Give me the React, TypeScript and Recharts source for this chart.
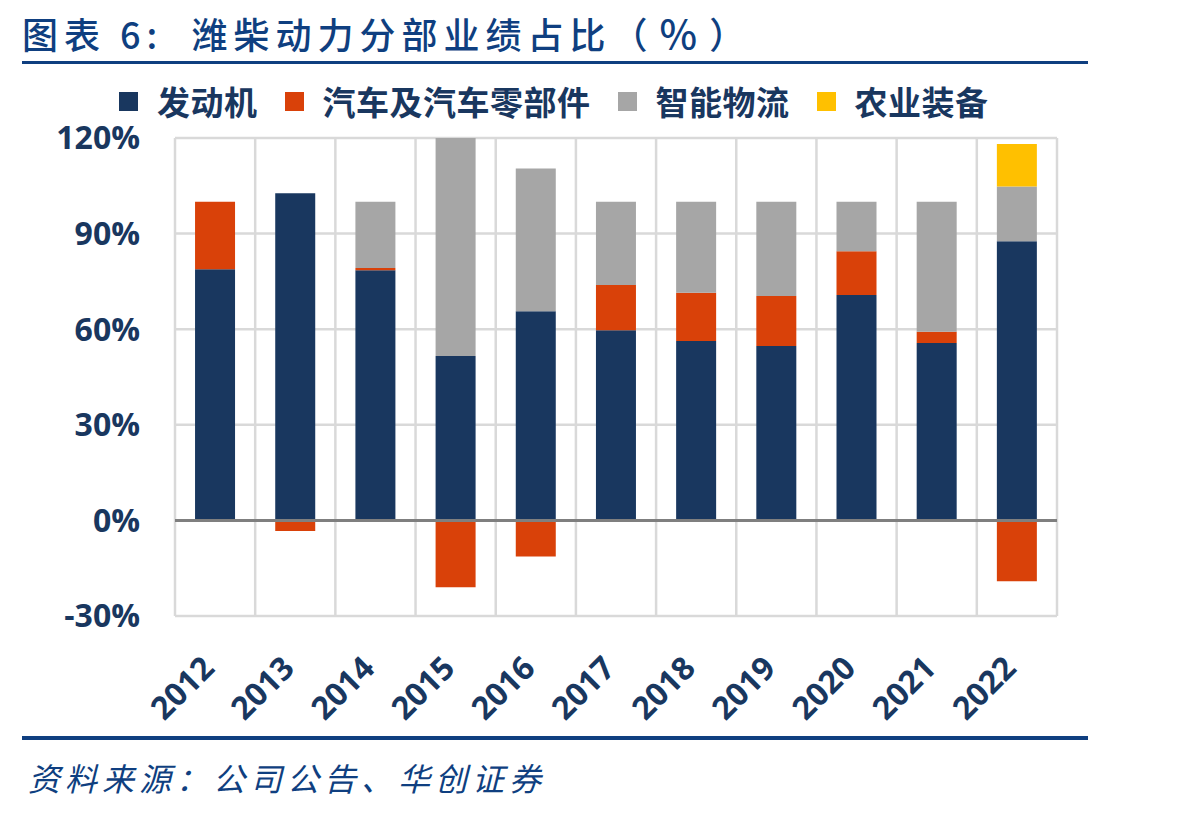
// Weichai segment profit share, stacked bars (Recharts) with negatives split by sign.

import { Bar, BarChart, CartesianGrid, ReferenceLine, XAxis, YAxis } from 'recharts'

const years = ['2012', '2013', '2014', '2015', '2016', '2017', '2018', '2019', '2020', '2021', '2022']
const engine = [78.8, 102.7, 78.5, 51.6, 65.6, 59.7, 56.3, 54.7, 70.7, 55.7, 87.6]
const autoParts = [21.2, -3.3, 0.7, -21, -11.3, 14.2, 15.1, 15.7, 13.8, 3.5, -19.1]
const logistics = [null, null, 20.8, 70, 44.8, 26.1, 28.6, 29.6, 15.5, 40.8, 17.2]
const agri = [null, null, null, null, null, null, null, null, null, null, 13.3]
const yTicks = [-30, 0, 30, 60, 90, 120]

const series = [
  { key: 'engine', name: '发动机', color: '#19375f' },
  { key: 'autoParts', name: '汽车及汽车零部件', color: '#d94109' },
  { key: 'logistics', name: '智能物流', color: '#a6a6a6' },
  { key: 'agri', name: '农业装备', color: '#ffc000' },
]

const data = years.map((year, i) => ({
  year,
  engine: engine[i],
  autoParts: autoParts[i],
  logistics: logistics[i],
  agri: agri[i],
}))

const NAVY = '#19375f'
const TITLE_BLUE = '#0f3f80'
const NUM_FONT = '"Open Sans", "Noto Sans CJK SC", sans-serif'
const CJK_FONT = '"Noto Sans CJK SC", sans-serif'

// vertical grid lines sit on the category boundaries, not the centres
const boundaryLines = ({ offset }: any) =>
  Array.from({ length: years.length + 1 }, (_, i) => offset.left + (offset.width * i) / years.length)

const YearTick = ({ x, y, payload }: any) => {
  const tx = x + 1
  const ty = y + 54
  return (
    <text
      x={tx}
      y={ty}
      transform={`rotate(-45 ${tx} ${ty})`}
      textAnchor="end"
      fill={NAVY}
      fontSize={32}
      fontWeight={700}
      fontFamily={NUM_FONT}
    >
      {payload.value}
    </text>
  )
}

export default function App() {
  return (
    <div
      style={{
        position: 'absolute',
        left: 0,
        top: 0,
        width: 1198,
        height: 814,
        background: '#fff',
        overflow: 'hidden',
      }}
    >
      {/* title */}
      <div
        style={{
          position: 'absolute',
          left: 22,
          top: 3,
          fontFamily: CJK_FONT,
          fontWeight: 500,
          fontSize: 36,
          letterSpacing: 6,
          color: TITLE_BLUE,
          whiteSpace: 'nowrap',
        }}
      >
        图表 6:&nbsp;&nbsp;潍柴动力分部业绩占比（<span style={{ fontSize: 40, margin: '0 6px' }}>%</span>）
      </div>
      <div style={{ position: 'absolute', left: 22, top: 61, width: 1066, height: 3, background: TITLE_BLUE }} />

      {/* legend */}
      <div
        style={{
          position: 'absolute',
          left: 119,
          top: 77,
          display: 'flex',
          alignItems: 'center',
          fontFamily: CJK_FONT,
          fontWeight: 700,
          fontSize: 33,
          letterSpacing: 0.5,
          color: NAVY,
          whiteSpace: 'nowrap',
        }}
      >
        {series.map((s) => (
          <div key={s.key} style={{ display: 'flex', alignItems: 'center', marginRight: 27 }}>
            <span style={{ width: 19, height: 19, background: s.color, marginRight: 19, display: 'inline-block' }} />
            <span>{s.name}</span>
          </div>
        ))}
      </div>

      <div style={{ position: 'absolute', left: 0, top: 0 }}>
        <BarChart
          width={1198}
          height={814}
          data={data}
          stackOffset="sign"
          barCategoryGap="25%"
          margin={{ top: 138, right: 141, left: 0, bottom: 98 }}
        >
          <CartesianGrid
            stroke="#d9d9d9"
            strokeWidth={2.5}
            verticalCoordinatesGenerator={boundaryLines}
          />
          <XAxis
            dataKey="year"
            height={100}
            axisLine={false}
            tickLine={false}
            tickSize={0}
            tickMargin={0}
            interval={0}
            tick={<YearTick />}
          />
          <YAxis
            domain={[-30, 120]}
            ticks={yTicks}
            allowDataOverflow
            width={175}
            axisLine={false}
            tickLine={false}
            tickSize={0}
            tickMargin={35}
            tickFormatter={(v: number) => `${v}%`}
            tick={{ fill: NAVY, fontSize: 32, fontWeight: 700, fontFamily: NUM_FONT }}
          />
          {series.map((s) => (
            <Bar
              key={s.key}
              dataKey={s.key}
              name={s.name}
              stackId="a"
              fill={s.color}
              isAnimationActive={false}
            />
          ))}
          <ReferenceLine y={0} stroke="#7f7f7f" strokeWidth={3} />
        </BarChart>
      </div>

      {/* footer */}
      <div style={{ position: 'absolute', left: 22, top: 736, width: 1066, height: 4, background: TITLE_BLUE }} />
      <div
        style={{
          position: 'absolute',
          left: 28,
          top: 754,
          fontFamily: CJK_FONT,
          fontSize: 32,
          fontStyle: 'italic',
          letterSpacing: 5,
          color: TITLE_BLUE,
          whiteSpace: 'nowrap',
        }}
      >
        资料来源：公司公告、华创证券
      </div>
    </div>
  )
}
